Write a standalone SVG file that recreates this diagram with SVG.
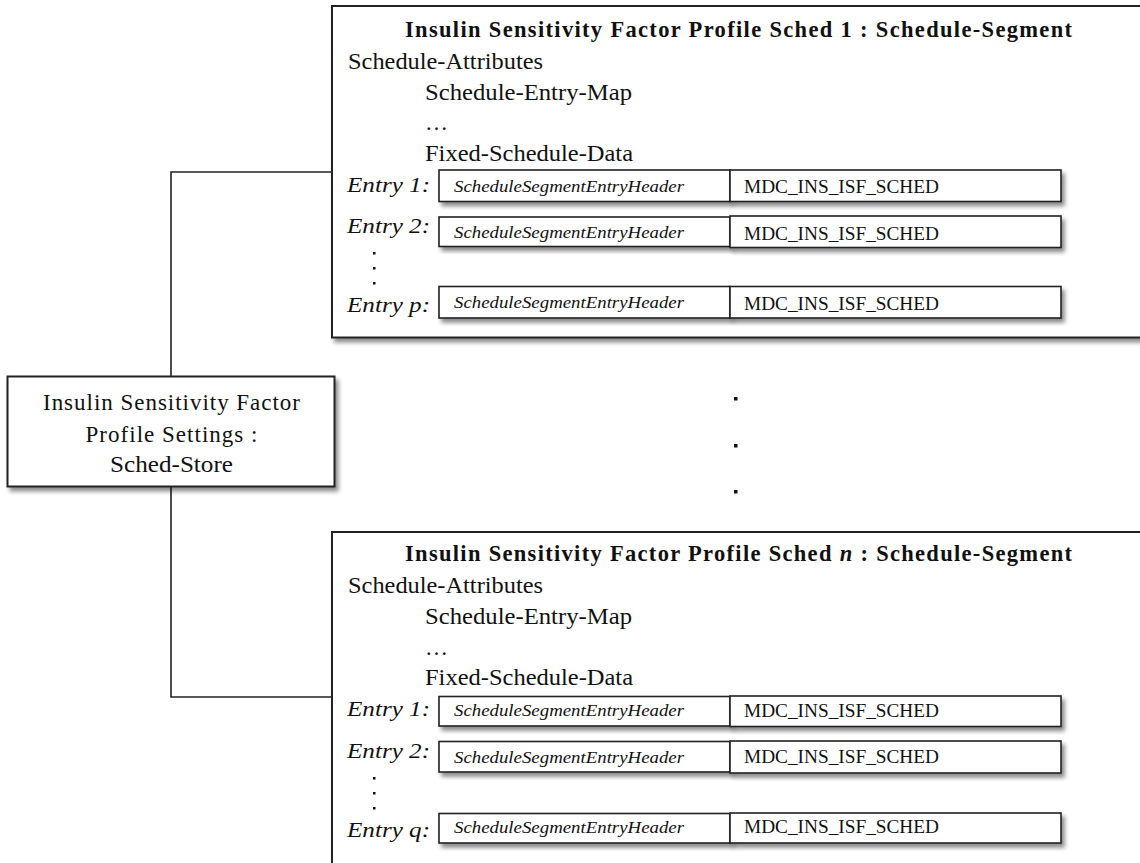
<svg xmlns="http://www.w3.org/2000/svg" width="1140" height="863" viewBox="0 0 1140 863">
<defs>
<filter id="sh" x="-5%" y="-5%" width="115%" height="130%">
<feDropShadow dx="3" dy="4" stdDeviation="2" flood-color="#000" flood-opacity="0.45"/>
</filter>
<style>
.box{fill:#fff;stroke:#222;stroke-width:2;filter:url(#sh)}
.cell{fill:#fff;stroke:#222;stroke-width:1.6}
.t{font-family:"Liberation Serif","Times New Roman",serif;font-size:23px;fill:#111}
.b{font-weight:bold;font-size:22.5px}
.e{font-family:"Liberation Serif","Times New Roman",serif;font-size:22px;font-style:italic;fill:#111}
.h{font-family:"Liberation Serif","Times New Roman",serif;font-size:16.5px;font-style:italic;fill:#111}
.m{font-family:"Liberation Serif","Times New Roman",serif;font-size:18px;fill:#111}
.ln{fill:none;stroke:#222;stroke-width:1.6}
.dot{fill:#111}
</style>
</defs>
<rect width="1140" height="863" fill="#fff"/>

<g id="connectors">
<polyline class="ln" points="332,172 171,172 171,377"/>
<polyline class="ln" points="171,487 171,697 332,697"/>
</g>

<g id="store">
<rect class="box" x="7.5" y="376.5" width="327" height="110"/>
<text class="t" x="171.5" y="410" text-anchor="middle" textLength="257" lengthAdjust="spacing">Insulin Sensitivity Factor</text>
<text class="t" x="171.5" y="441.5" text-anchor="middle" textLength="172" lengthAdjust="spacing">Profile Settings :</text>
<text class="t" x="171.5" y="471.5" text-anchor="middle" textLength="123" lengthAdjust="spacingAndGlyphs">Sched-Store</text>
</g>

<g id="sched1">
<rect class="box" x="332" y="6" width="830" height="331.5"/>
<text class="t b" x="405" y="37" textLength="667" lengthAdjust="spacing">Insulin Sensitivity Factor Profile Sched 1 : Schedule-Segment</text>
<text class="t" x="348" y="69" textLength="195" lengthAdjust="spacingAndGlyphs">Schedule-Attributes</text>
<text class="t" x="425" y="100" textLength="207" lengthAdjust="spacingAndGlyphs">Schedule-Entry-Map</text>
<text class="t" x="425" y="130">…</text>
<text class="t" x="425" y="161" textLength="208" lengthAdjust="spacingAndGlyphs">Fixed-Schedule-Data</text>
<g id="s1e1">
<text class="e" x="347" y="191.5" textLength="83" lengthAdjust="spacingAndGlyphs">Entry 1:</text>
<rect class="cell" x="439" y="170" width="291" height="31.5" filter="url(#sh)"/>
<rect class="cell" x="730" y="170" width="331" height="31.5" filter="url(#sh)"/>
<text class="h" x="454" y="192" textLength="230" lengthAdjust="spacingAndGlyphs">ScheduleSegmentEntryHeader</text>
<text class="m" x="744" y="193" textLength="195" lengthAdjust="spacingAndGlyphs">MDC_INS_ISF_SCHED</text>
</g>
<g id="s1e2">
<text class="e" x="347" y="233" textLength="83" lengthAdjust="spacingAndGlyphs">Entry 2:</text>
<rect class="cell" x="439" y="217" width="291" height="29.5" filter="url(#sh)"/>
<rect class="cell" x="730" y="216" width="331" height="31.5" filter="url(#sh)"/>
<text class="h" x="454" y="238" textLength="230" lengthAdjust="spacingAndGlyphs">ScheduleSegmentEntryHeader</text>
<text class="m" x="744" y="240" textLength="195" lengthAdjust="spacingAndGlyphs">MDC_INS_ISF_SCHED</text>
</g>
<rect class="dot" x="373" y="252" width="2.5" height="2.5"/>
<rect class="dot" x="373" y="267" width="2.5" height="2.5"/>
<rect class="dot" x="373" y="282" width="2.5" height="2.5"/>
<g id="s1ep">
<text class="e" x="347" y="311.5" textLength="83" lengthAdjust="spacingAndGlyphs">Entry p:</text>
<rect class="cell" x="439" y="286.5" width="291" height="31.5" filter="url(#sh)"/>
<rect class="cell" x="730" y="286.5" width="331" height="31.5" filter="url(#sh)"/>
<text class="h" x="454" y="308" textLength="230" lengthAdjust="spacingAndGlyphs">ScheduleSegmentEntryHeader</text>
<text class="m" x="744" y="310" textLength="195" lengthAdjust="spacingAndGlyphs">MDC_INS_ISF_SCHED</text>
</g>
</g>

<g id="ellipsis">
<rect class="dot" x="734" y="397" width="3.5" height="3.5"/>
<rect class="dot" x="734" y="444" width="3.5" height="3.5"/>
<rect class="dot" x="734" y="490" width="3.5" height="3.5"/>
</g>

<g id="schedn">
<rect class="box" x="332" y="532" width="830" height="360"/>
<text class="t b" x="405" y="561" textLength="667" lengthAdjust="spacing">Insulin Sensitivity Factor Profile Sched <tspan font-style="italic">n</tspan> : Schedule-Segment</text>
<text class="t" x="348" y="593" textLength="195" lengthAdjust="spacingAndGlyphs">Schedule-Attributes</text>
<text class="t" x="425" y="624" textLength="207" lengthAdjust="spacingAndGlyphs">Schedule-Entry-Map</text>
<text class="t" x="425" y="655">…</text>
<text class="t" x="425" y="685" textLength="208" lengthAdjust="spacingAndGlyphs">Fixed-Schedule-Data</text>
<g id="sne1">
<text class="e" x="347" y="716" textLength="83" lengthAdjust="spacingAndGlyphs">Entry 1:</text>
<rect class="cell" x="439" y="696.5" width="291" height="29.5" filter="url(#sh)"/>
<rect class="cell" x="730" y="696" width="331" height="30.5" filter="url(#sh)"/>
<text class="h" x="454" y="716" textLength="230" lengthAdjust="spacingAndGlyphs">ScheduleSegmentEntryHeader</text>
<text class="m" x="744" y="716.5" textLength="195" lengthAdjust="spacingAndGlyphs">MDC_INS_ISF_SCHED</text>
</g>
<g id="sne2">
<text class="e" x="347" y="758" textLength="83" lengthAdjust="spacingAndGlyphs">Entry 2:</text>
<rect class="cell" x="439" y="741.5" width="291" height="30.5" filter="url(#sh)"/>
<rect class="cell" x="730" y="741" width="331" height="32" filter="url(#sh)"/>
<text class="h" x="454" y="763" textLength="230" lengthAdjust="spacingAndGlyphs">ScheduleSegmentEntryHeader</text>
<text class="m" x="744" y="763" textLength="195" lengthAdjust="spacingAndGlyphs">MDC_INS_ISF_SCHED</text>
</g>
<rect class="dot" x="373" y="777" width="2.5" height="2.5"/>
<rect class="dot" x="373" y="792" width="2.5" height="2.5"/>
<rect class="dot" x="373" y="807" width="2.5" height="2.5"/>
<g id="sneq">
<text class="e" x="347" y="836.5" textLength="83" lengthAdjust="spacingAndGlyphs">Entry q:</text>
<rect class="cell" x="439" y="813.5" width="291" height="29.5" filter="url(#sh)"/>
<rect class="cell" x="730" y="813" width="331" height="30" filter="url(#sh)"/>
<text class="h" x="454" y="833" textLength="230" lengthAdjust="spacingAndGlyphs">ScheduleSegmentEntryHeader</text>
<text class="m" x="744" y="833" textLength="195" lengthAdjust="spacingAndGlyphs">MDC_INS_ISF_SCHED</text>
</g>
</g>
</svg>
